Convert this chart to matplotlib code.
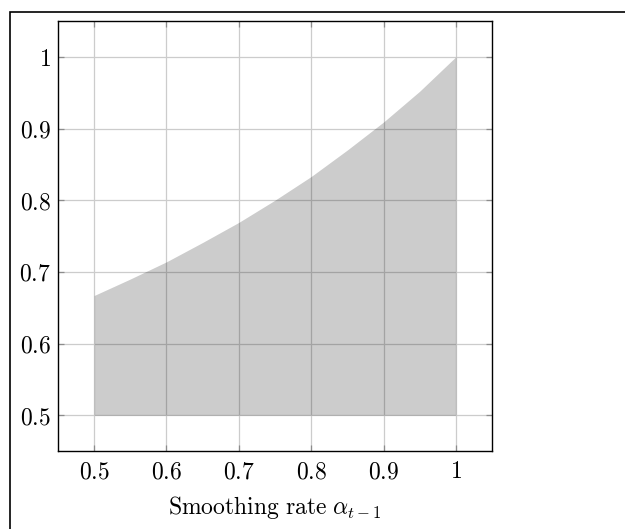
import matplotlib
matplotlib.use("Agg")
import matplotlib.pyplot as plt
from matplotlib.patches import Rectangle

# Data
alpha = [0.5, 0.55, 0.6, 0.65, 0.7, 0.75, 0.8, 0.85, 0.9, 0.95, 1.0]
upper = [0.667, 0.690, 0.714, 0.741, 0.769, 0.800, 0.833, 0.870, 0.909, 0.952, 1.0]
lower = [0.5] * len(alpha)
xticks = [0.5, 0.6, 0.7, 0.8, 0.9, 1.0]
xticklabels = ["0.5", "0.6", "0.7", "0.8", "0.9", "1"]
yticks = [0.5, 0.6, 0.7, 0.8, 0.9, 1.0]
yticklabels = ["0.5", "0.6", "0.7", "0.8", "0.9", "1"]

plt.rcParams["mathtext.fontset"] = "cm"
plt.rcParams["font.family"] = ["DejaVu Serif"]

FS = 17

fig = plt.figure(figsize=(6.25, 5.29), dpi=100)
ax = fig.add_axes([58/625, 1-451/529, (492-58)/625, (451-21)/529])

ax.fill_between(alpha, lower, upper, color="black", alpha=0.2, linewidth=0, zorder=2)

ax.set_xlim(0.45, 1.05)
ax.set_ylim(0.45, 1.05)
ax.set_xticks(xticks)
ax.set_xticklabels(["$" + t + "$" for t in xticklabels], fontsize=FS)
ax.set_yticks(yticks)
ax.set_yticklabels(["$" + t + "$" for t in yticklabels], fontsize=FS)
ax.grid(True, color="#cccccc", linewidth=0.9, zorder=1)
ax.set_axisbelow(True)
ax.tick_params(axis="x", direction="in", length=4, width=0.9, color="#8c8c8c",
               top=True, pad=6.5)
ax.tick_params(axis="y", direction="in", length=4, width=0.9, color="#8c8c8c",
               right=True, pad=5)
for s in ax.spines.values():
    s.set_linewidth(1.0)
    s.set_color("black")
ax.set_xlabel(r"$\mathrm{Smoothing\ rate}\ \alpha_{t-1}$", fontsize=FS, labelpad=8)

# outer frame
fig.patches.append(Rectangle((9.5/625, -0.1), 1.2, (1-11.5/529) + 0.1,
                             transform=fig.transFigure, fill=False,
                             edgecolor="black", linewidth=1.2))

fig.savefig("out.png", dpi=100)
